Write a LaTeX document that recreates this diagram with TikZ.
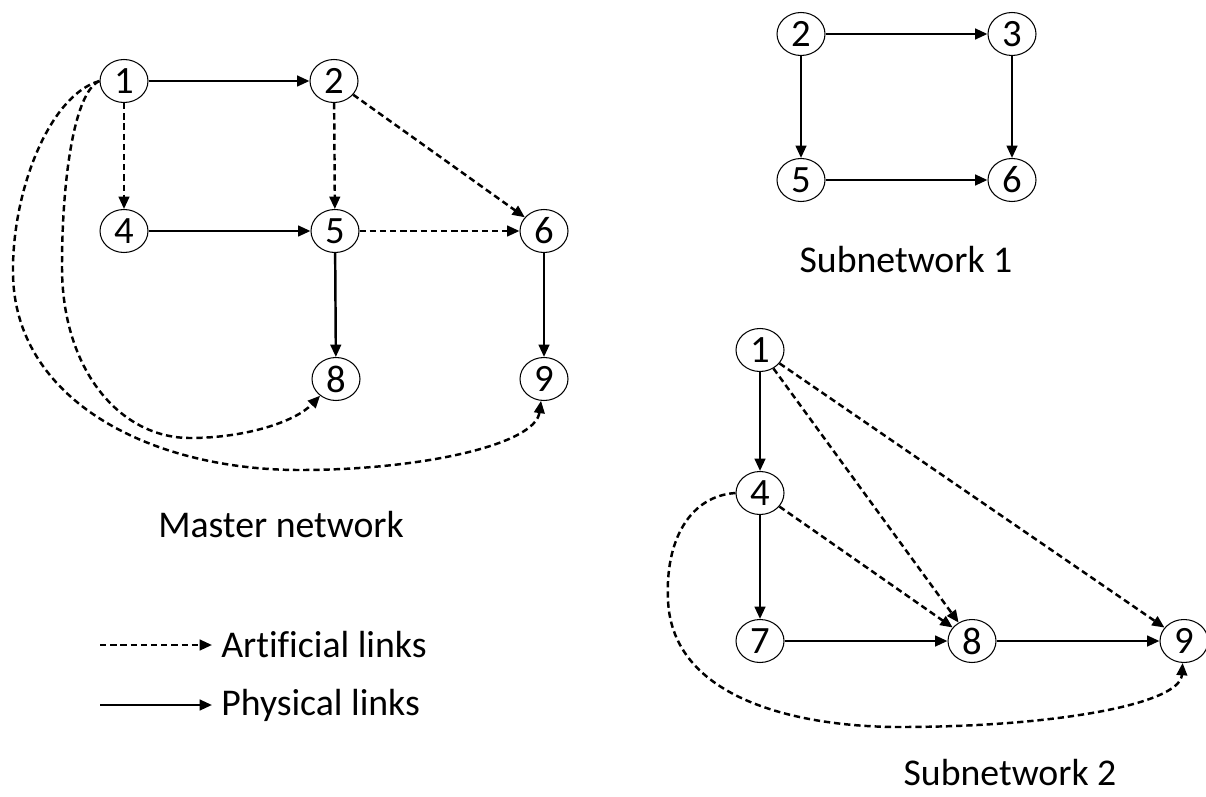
\documentclass[tikz,border=0pt]{standalone}
\usepackage{fontspec}
\setmainfont[Ligatures=NoCommon]{Carlito}
\usetikzlibrary{arrows.meta,shapes.geometric}
\begin{document}
\begin{tikzpicture}[x=0.02cm,y=-0.02cm,
  nd/.style={ellipse,draw,line width=0.6pt,minimum width=0.96cm,minimum height=0.86cm,inner sep=0pt,font=\fontsize{22}{24}\selectfont},
  phys/.style={line width=1.4pt,-{Triangle[length=7pt,width=6pt]}},
  art/.style={line width=1.4pt,dash pattern=on 3.6pt off 2.2pt,-{Triangle[length=7pt,width=6pt]}},
  lbl/.style={font=\fontsize{21.5}{24}\selectfont,inner sep=0pt}]
\useasboundingbox (0,0) rectangle (1206,797);
% Master network
\node[nd] (m1) at (124,81) {1};
\node[nd] (m2) at (334,81) {2};
\node[nd] (m4) at (124,231) {4};
\node[nd] (m5) at (335,231) {5};
\node[nd] (m6) at (544,231) {6};
\node[nd] (m8) at (336,379) {8};
\node[nd] (m9) at (544,379) {9};
\draw[phys] (m1) -- (m2);
\draw[art] (m1) -- (m4);
\draw[art] (m2) -- (m5);
\draw[art] (m2) -- (m6);
\draw[phys] (m4) -- (m5);
\draw[art] (m5) -- (m6);
\draw[phys] (m5) -- (m8);
\draw[phys] (m6) -- (m9);
\draw[art] (m1.west) .. controls (74,92) and (62,180) .. (62,267)
  .. controls (62,370) and (120,438) .. (190,438)
  .. controls (245,438) and (295,422) .. (m8);
\draw[art] (m1.west) .. controls (50,95) and (12,190) .. (13,273)
  .. controls (14,400) and (150,470) .. (300,470)
  .. controls (420,470) and (535,445) .. (m9);
\node[lbl] (tm) at (281,525) {Master network};
% Legend
\coordinate (la1) at (100,645);
\coordinate (la2) at (212,645);
\coordinate (lp1) at (100,705);
\coordinate (lp2) at (212,705);
\draw[art] (la1) -- (la2);
\draw[phys] (lp1) -- (lp2);
\node[lbl,anchor=west] (ta) at (221,645) {Artificial links};
\node[lbl,anchor=west] (tp) at (221,705) {Physical links};
% Subnetwork 1
\node[nd] (a2) at (801,34) {2};
\node[nd] (a3) at (1012,34) {3};
\node[nd] (a5) at (801,180) {5};
\node[nd] (a6) at (1012,180) {6};
\draw[phys] (a2) -- (a3);
\draw[phys] (a2) -- (a5);
\draw[phys] (a3) -- (a6);
\draw[phys] (a5) -- (a6);
\node[lbl] (t1) at (906,260) {Subnetwork 1};
% Subnetwork 2
\node[nd] (b1) at (760,350) {1};
\node[nd] (b4) at (760,493) {4};
\node[nd] (b7) at (760,641) {7};
\node[nd] (b8) at (972,641) {8};
\node[nd] (b9) at (1184,641) {9};
\draw[phys] (b1) -- (b4);
\draw[phys] (b4) -- (b7);
\draw[phys] (b7) -- (b8);
\draw[phys] (b8) -- (b9);
\draw[art] (b1) -- (b8);
\draw[art] (b1) -- (b9);
\draw[art] (b4) -- (b8);
\draw[art] (b4.west) .. controls (690,496) and (665,540) .. (668,600)
  .. controls (672,700) and (800,727) .. (900,727)
  .. controls (1050,727) and (1180,705) .. (b9);
\node[lbl] (t2) at (1010,773) {Subnetwork 2};
\end{tikzpicture}
\end{document}
